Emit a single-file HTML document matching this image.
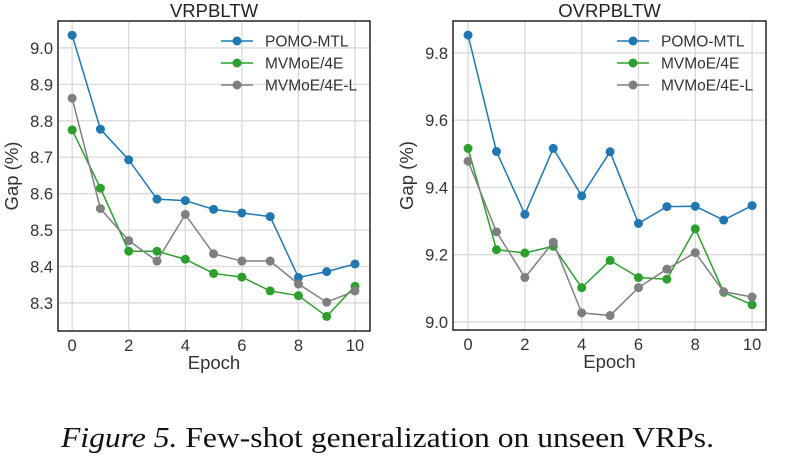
<!DOCTYPE html>
<html><head><meta charset="utf-8">
<style>
body{margin:0;background:#fff;width:793px;height:465px;overflow:hidden;}
svg{display:block;font-family:"Liberation Sans",sans-serif;}
</style></head>
<body>
<svg id="fig" width="793" height="465" viewBox="0 0 793 465" xmlns="http://www.w3.org/2000/svg">
<text x="61" y="447" font-family="Liberation Serif, serif" font-size="29" fill="#111" textLength="653" lengthAdjust="spacingAndGlyphs"><tspan font-style="italic">Figure 5.</tspan> Few-shot generalization on unseen VRPs.</text>
</svg>
<script>
const epochs=[0,1,2,3,4,5,6,7,8,9,10];
const seriesNames=["POMO-MTL","MVMoE/4E","MVMoE/4E-L"];
const colors=["#1f77b4","#2ca02c","#7f7f7f"];
const leftPomo=[9.035,8.777,8.693,8.585,8.581,8.557,8.547,8.537,8.370,8.386,8.407];
const leftMoe=[8.775,8.615,8.442,8.442,8.420,8.381,8.371,8.333,8.320,8.263,8.346];
const leftMoeL=[8.862,8.559,8.471,8.415,8.543,8.435,8.415,8.415,8.352,8.302,8.333];
const rightPomo=[9.853,9.507,9.320,9.516,9.375,9.506,9.293,9.343,9.344,9.303,9.346];
const rightMoe=[9.516,9.215,9.205,9.225,9.102,9.183,9.132,9.127,9.277,9.088,9.051];
const rightMoeL=[9.478,9.268,9.132,9.237,9.027,9.019,9.102,9.157,9.206,9.090,9.074];
const leftYTicks=[8.3,8.4,8.5,8.6,8.7,8.8,8.9,9.0];
const rightYTicks=[9.0,9.2,9.4,9.6,9.8];
const xTicks=[0,2,4,6,8,10];

const NS="http://www.w3.org/2000/svg";
const svg=document.getElementById('fig');
function mk(tag,attrs,parent){const e=document.createElementNS(NS,tag);for(const k in attrs)e.setAttribute(k,attrs[k]);(parent||svg).appendChild(e);return e;}

function panel(p){
  const g=mk('g',{});
  
  
  const X=v=>p.x0+(v-p.xmin)/(p.xmax-p.xmin)*(p.x1-p.x0);
  const Y=v=>p.y1-(v-p.ymin)/(p.ymax-p.ymin)*(p.y1-p.y0);
  p.yt.forEach(t=>{const l=mk('line',{x1:p.x0,x2:p.x1,y1:Y(t),y2:Y(t),stroke:'#d9d9d9','stroke-width':1.3},g);
    
    const tx=mk('text',{x:p.x0-5,y:Y(t)+6,'text-anchor':'end','font-size':16.5,fill:'#333'},g);tx.textContent=t.toFixed(p.dec);
    });
  xTicks.forEach(t=>{const l=mk('line',{x1:X(t),x2:X(t),y1:p.y0,y2:p.y1,stroke:'#d9d9d9','stroke-width':1.3},g);
    
    const tx=mk('text',{x:X(t),y:p.y1+20,'text-anchor':'middle','font-size':16.5,fill:'#333'},g);tx.textContent=t;
    });
  const fr=mk('rect',{x:p.x0,y:p.y0,width:p.x1-p.x0,height:p.y1-p.y0,fill:'none',stroke:'#222','stroke-width':1.5},g);
  
  const ti=mk('text',{x:(p.x0+p.x1)/2,y:p.y0-4,'text-anchor':'middle','font-size':18.5,fill:'#222'},g);ti.textContent=p.title;
  
  const xl=mk('text',{x:(p.x0+p.x1)/2,y:p.y1+38,'text-anchor':'middle','font-size':18.5,fill:'#333'},g);xl.textContent='Epoch';
  
  const yx=p.x0-p.ylo, yy=(p.y0+p.y1)/2;
  const yl=mk('text',{x:yx,y:yy,'text-anchor':'middle','font-size':18.5,fill:'#333',transform:`rotate(-90 ${yx} ${yy})`},g);yl.textContent='Gap (%)';
  
  p.data.forEach((d,si)=>{
    const sg=mk('g',{},g);
    
    
    const pl=mk('polyline',{points:d.map((v,i)=>X(epochs[i])+','+Y(v)).join(' '),fill:'none',stroke:colors[si],'stroke-width':1.5},sg);
    
    d.forEach((v,i)=>{const c=mk('circle',{cx:X(epochs[i]),cy:Y(v),r:4.5,fill:colors[si]},sg);
      });
  });
  const lg=mk('g',{},g);
  
  seriesNames.forEach((n,si)=>{
    const ly=p.y0+20+si*22;
    const eg=mk('g',{},lg);
    
    mk('line',{x1:p.lx,x2:p.lx+32,y1:ly,y2:ly,stroke:colors[si],'stroke-width':1.5},eg);
    mk('circle',{cx:p.lx+16,cy:ly,r:4.5,fill:colors[si]},eg);
    const t=mk('text',{x:p.lx+44,y:ly+5.5,'font-size':15.5,fill:'#333'},eg);t.textContent=n;
  });
}
panel({id:'vrpbltw',title:'VRPBLTW',x0:58,x1:370,y0:21,y1:331,xmin:-0.5,xmax:10.53,ymin:8.223,ymax:9.074,yt:leftYTicks,dec:1,ylo:40,lx:221,data:[leftPomo,leftMoe,leftMoeL]});
panel({id:'ovrpbltw',title:'OVRPBLTW',x0:453,x1:766,y0:21,y1:330,xmin:-0.53,xmax:10.49,ymin:8.976,ymax:9.895,yt:rightYTicks,dec:1,ylo:40,lx:617,data:[rightPomo,rightMoe,rightMoeL]});
</script>
</body></html>
